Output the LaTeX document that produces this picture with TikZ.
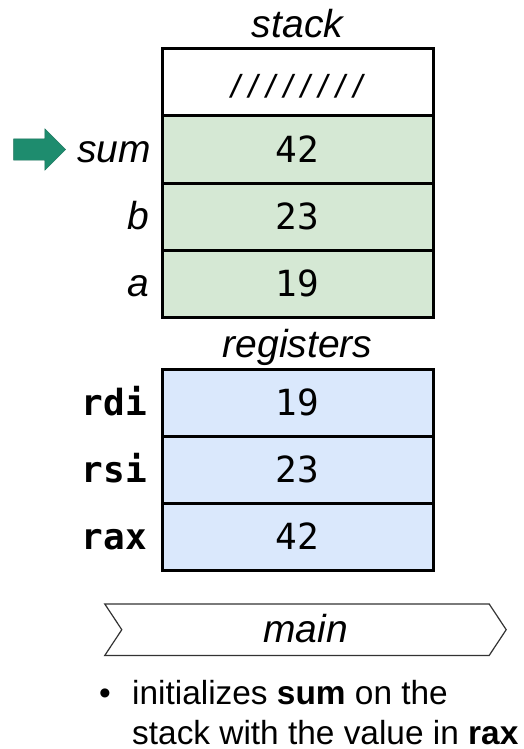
\documentclass[tikz,border=0pt]{standalone}
\usepackage{fontspec}
\setmainfont{Liberation Sans}
\setmonofont{DejaVu Sans Mono}
\usetikzlibrary{positioning,shapes.arrows}
\definecolor{stackfill}{HTML}{D5E8D4}
\definecolor{regfill}{HTML}{DAE8FC}
\definecolor{pointerfill}{HTML}{1E8C6E}
\newdimen\hdim
\newdimen\wdim
\hdim=67pt
\wdim=271pt
\tikzstyle{cell}=[
  draw=black,
  font={\fontsize{36}{40}\selectfont\ttfamily},
  inner sep=0pt,
  line width=3pt,
  minimum height=\hdim,
  minimum width=\wdim,
  outer sep=0pt,
  rectangle,
  text height=26pt,
  text depth=0pt,
]
\tikzstyle{varname}=[
  font={\fontsize{39}{44}\selectfont\itshape},
  inner sep=0pt,
  text height=26pt,
  text depth=0pt,
]
\tikzstyle{regname}=[
  font={\fontsize{36}{40}\selectfont\ttfamily\bfseries},
  inner sep=0pt,
  text height=26pt,
  text depth=0pt,
]
\tikzstyle{title}=[
  font={\fontsize{39}{44}\selectfont\itshape},
  inner sep=0pt,
]
\tikzstyle{note}=[
  font={\fontsize{33.4}{41}\selectfont},
  inner sep=0pt,
  anchor=base west,
  text depth=0pt,
]
\tikzstyle{pointer}=[
  single arrow,
  draw=pointerfill!80!black,
  fill=pointerfill,
  inner sep=10.5pt,
  minimum height=52pt,
  minimum width=41pt,
  single arrow head extend=10pt,
]
\tikzstyle{banner}=[
  draw=black!80,
  line width=1.2pt,
]
\tikzset{
  x=1pt,
  y=1pt,
  node distance=\hdim,
}

\begin{document}
\begin{tikzpicture}
  \useasboundingbox (0,0) rectangle (523,-749);
  % stack
  \node (slashes) [cell] at (297.5,-82.5) {\fontsize{29}{32}\selectfont ////////};
  \node (sumval) [cell, fill=stackfill, below of=slashes] {42};
  \node (bval) [cell, fill=stackfill, below of=sumval] {23};
  \node (aval) [cell, fill=stackfill, below of=bval] {19};
  \node (stacktitle) [title, above=11pt of slashes, anchor=base] {stack};
  \node (sumname) [varname, left=11pt of sumval] {sum};
  \node (bname) [varname, left=13pt of bval] {b};
  \node (aname) [varname, left=13pt of aval] {a};
  \node (ptr) [pointer, left=11pt of sumname.west, anchor=tip] {};
  % registers
  \node (rdival) [cell, fill=regfill, below=52pt of aval] {19};
  \node (rsival) [cell, fill=regfill, below of=rdival] {23};
  \node (raxval) [cell, fill=regfill, below of=rsival] {42};
  \node (regtitle) [title, above=12pt of rdival, anchor=base] {registers};
  \node (rdiname) [regname, left=15pt of rdival] {rdi};
  \node (rsiname) [regname, left=15pt of rsival] {rsi};
  \node (raxname) [regname, left=15pt of raxval] {rax};
  % function
  \node (frame) [below=34pt of raxval, minimum width=384pt, minimum height=51pt, inner sep=0pt, xshift=-0.5pt] {};
  \draw [banner] (frame.north west) -- (frame.north east) -- ([xshift=17pt]frame.east)
    -- (frame.south east) -- (frame.south west) -- ([xshift=17pt]frame.west) -- cycle;
  \node (mainname) [varname] at ([xshift=8.5pt]frame.center) {main};
  \node (line1) [note] at (132,-704) {initializes \textbf{sum} on the};
  \node (line2) [note] at ([yshift=-40pt]line1.base west) {stack with the value in \textbf{rax}};
  \node (dot) [note, anchor=base east] at ([xshift=-21pt]line1.base west) {\textbullet};
\end{tikzpicture}
\end{document}
